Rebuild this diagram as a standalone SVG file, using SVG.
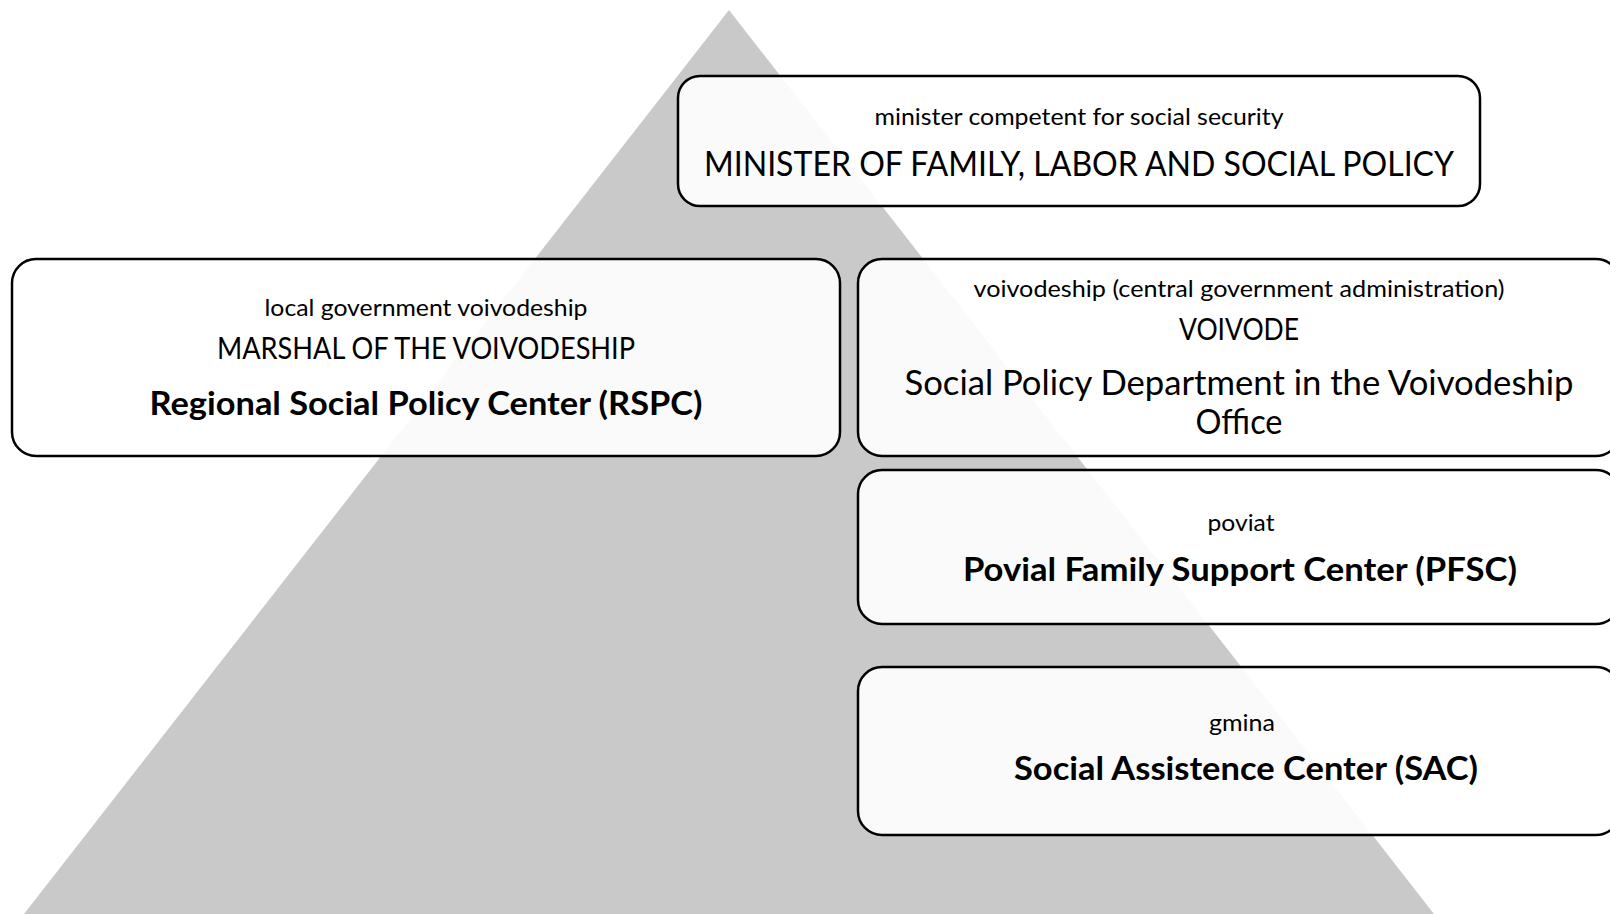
<svg xmlns="http://www.w3.org/2000/svg" width="1610" height="914" viewBox="0 0 1610 914">
<style>
.box{fill:#ffffff;fill-opacity:0.9;stroke:#000;stroke-width:2.5}
text{font-family:Lato,"Open Sans","Liberation Sans",sans-serif;fill:#000;text-anchor:middle}
.s{font-size:23px}
.m{font-size:30px}
.l{font-size:34px}
.b{font-size:32px;font-weight:bold}
</style>
<rect x="0" y="0" width="1610" height="914" fill="#ffffff"/>
<polygon id="pyramid" points="729,10 1434,914 24,914" fill="#c9c9c9"/>
<g id="connectors"></g>
<g id="minister">
<rect class="box" x="678" y="76" width="802" height="130" rx="22"/>
<text class="s" x="1079" y="125" textLength="409" lengthAdjust="spacingAndGlyphs">minister competent for social security</text>
<text class="l" x="1079" y="176" textLength="750" lengthAdjust="spacingAndGlyphs">MINISTER OF FAMILY, LABOR AND SOCIAL POLICY</text>
</g>
<g id="rspc">
<rect class="box" x="12" y="259" width="828" height="197" rx="24"/>
<text class="s" x="426" y="316" textLength="323" lengthAdjust="spacingAndGlyphs">local government voivodeship</text>
<text class="m" x="426" y="359" textLength="418" lengthAdjust="spacingAndGlyphs">MARSHAL OF THE VOIVODESHIP</text>
<text class="b" x="426" y="415" textLength="553" lengthAdjust="spacingAndGlyphs">Regional Social Policy Center (RSPC)</text>
</g>
<g id="voivode">
<rect class="box" x="858" y="259" width="762" height="197" rx="24"/>
<text class="s" x="1239" y="297" textLength="531" lengthAdjust="spacingAndGlyphs">voivodeship (central government administration)</text>
<text class="m" x="1239" y="340" textLength="120" lengthAdjust="spacingAndGlyphs">VOIVODE</text>
<text class="l" x="1239" y="395" textLength="669" lengthAdjust="spacingAndGlyphs">Social Policy Department in the Voivodeship</text>
<text class="l" x="1239" y="434" textLength="87" lengthAdjust="spacingAndGlyphs">Office</text>
</g>
<g id="pfsc">
<rect class="box" x="858" y="470" width="762" height="154" rx="24"/>
<text class="s" x="1241" y="531" textLength="67" lengthAdjust="spacingAndGlyphs">poviat</text>
<text class="b" x="1240" y="581" textLength="554" lengthAdjust="spacingAndGlyphs">Povial Family Support Center (PFSC)</text>
</g>
<g id="sac">
<rect class="box" x="858" y="667" width="762" height="168" rx="24"/>
<text class="s" x="1242" y="731" textLength="66" lengthAdjust="spacingAndGlyphs">gmina</text>
<text class="b" x="1246" y="780" textLength="464" lengthAdjust="spacingAndGlyphs">Social Assistence Center (SAC)</text>
</g>
</svg>
